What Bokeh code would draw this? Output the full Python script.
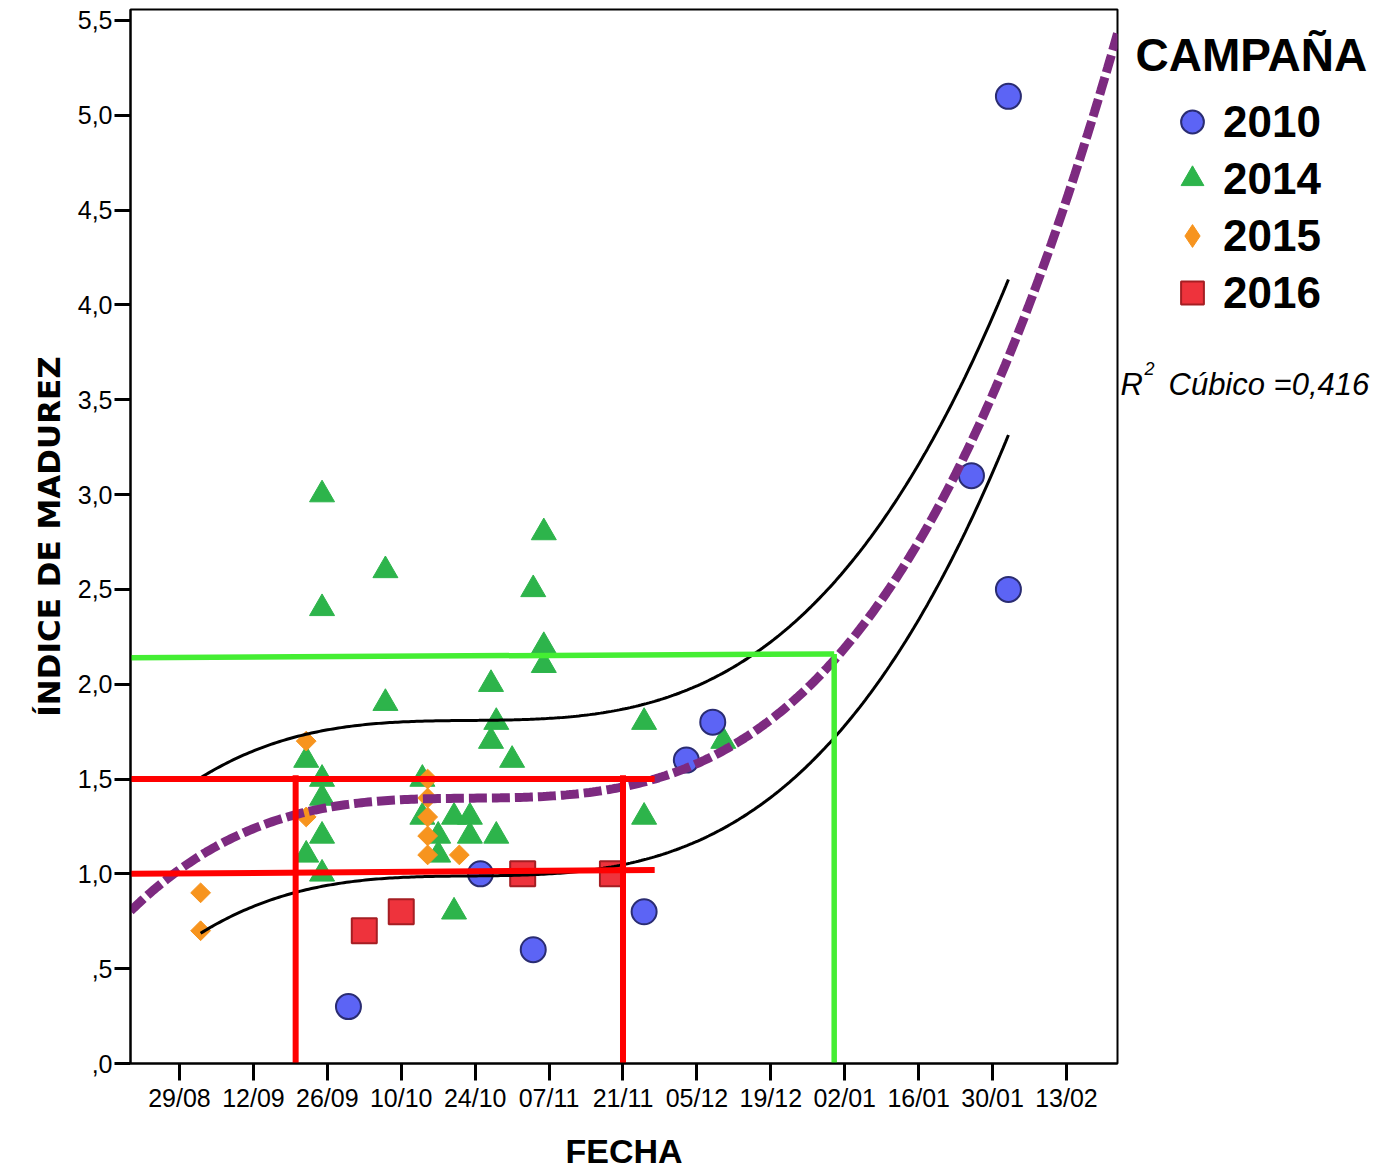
import numpy as np
import pandas as pd
from bokeh.plotting import figure
from bokeh.layouts import row
from bokeh.models import Range1d, FixedTicker, Legend, LegendItem, Label
from bokeh.embed import file_html
from bokeh.resources import INLINE

# ---------------- data ----------------
X_TICK_LABELS = ["29/08", "12/09", "26/09", "10/10", "24/10", "07/11", "21/11",
                 "05/12", "19/12", "02/01", "16/01", "30/01", "13/02"]
Y_TICKS = [0.0, 0.5, 1.0, 1.5, 2.0, 2.5, 3.0, 3.5, 4.0, 4.5, 5.0, 5.5]
Y_TICK_LABELS = [",0", ",5", "1,0", "1,5", "2,0", "2,5", "3,0", "3,5", "4,0", "4,5", "5,0", "5,5"]

C2010_FECHA = ["30/09", "25/10", "04/11", "25/11", "03/12", "08/12", "26/01", "02/02", "02/02"]
C2010_INDICE = [0.3, 1.0, 0.6, 0.8, 1.6, 1.8, 3.1, 5.1, 2.5]

C2014_FECHA = ["22/09", "22/09", "25/09", "25/09", "25/09", "25/09", "25/09", "25/09",
               "07/10", "07/10", "14/10", "14/10", "17/10", "17/10", "20/10", "20/10",
               "23/10", "23/10", "27/10", "27/10", "28/10", "28/10", "31/10", "04/11",
               "06/11", "06/11", "06/11", "25/11", "25/11", "10/12"]
C2014_INDICE = [1.6, 1.1, 3.0, 2.4, 1.5, 1.4, 1.2, 1.0,
                2.6, 1.9, 1.5, 1.3, 1.2, 1.1, 1.3, 0.8,
                1.3, 1.2, 2.0, 1.7, 1.8, 1.2, 1.6, 2.5,
                2.8, 2.2, 2.1, 1.8, 1.3, 1.7]

C2015_FECHA = ["02/09", "02/09", "22/09", "22/09", "15/10", "15/10", "15/10", "15/10", "15/10", "21/10"]
C2015_INDICE = [0.9, 0.7, 1.7, 1.3, 1.5, 1.4, 1.3, 1.2, 1.1, 1.1]

C2016_FECHA = ["03/10", "10/10", "02/11", "19/11"]
C2016_INDICE = [0.7, 0.8, 1.0, 1.0]

# cubic fit line (R2 cubic = 0,416)
AJUSTE_FECHA = ["20/08", "02/09", "14/09", "26/09", "08/10", "20/10", "01/11", "13/11",
                "26/11", "03/12", "12/12", "21/12", "27/12", "03/01", "12/01", "26/01",
                "02/02", "08/02", "14/02", "22/02"]
AJUSTE_INDICE = [0.82, 1.11, 1.25, 1.33, 1.38, 1.39, 1.40, 1.42,
                 1.48, 1.58, 1.70, 1.88, 2.04, 2.27, 2.58, 3.12,
                 3.67, 4.21, 4.66, 5.40]

# hand-drawn guide lines (segments): start date, end date, start value, end value
ROJA_FECHA_INI = ["19/08", "19/08", "20/09", "21/11"]
ROJA_FECHA_FIN = ["27/11", "27/11", "20/09", "21/11"]
ROJA_IND_INI = [1.50, 1.00, 1.52, 1.52]
ROJA_IND_FIN = [1.50, 1.02, -0.05, -0.05]

VERDE_FECHA_INI = ["19/08", "31/12"]
VERDE_FECHA_FIN = ["31/12", "31/12"]
VERDE_IND_INI = [2.14, 2.16]
VERDE_IND_FIN = [2.16, 0.0]

BANDA_SEMIANCHO = 0.41   # half-width of the black band around the cubic fit
R2_TEXTO = "Cúbico =0,416"
CAMPANAS = ["2010", "2014", "2015", "2016"]

# ---------------- helpers ----------------
ORIGEN = pd.Timestamp("2000-08-29")


def a_dias(fechas):
    out = []
    for f in fechas:
        d, m = (int(v) for v in f.split("/"))
        year = 2000 if m >= 8 else 2001
        out.append((pd.Timestamp(year=year, month=m, day=d) - ORIGEN).days)
    return np.array(out, dtype=float)


x_ticks = a_dias(X_TICK_LABELS)
x2010, x2014, x2015, x2016 = (a_dias(f) for f in (C2010_FECHA, C2014_FECHA, C2015_FECHA, C2016_FECHA))
SERIES = {"2010": (x2010, C2010_INDICE), "2014": (x2014, C2014_INDICE),
          "2015": (x2015, C2015_INDICE), "2016": (x2016, C2016_INDICE)}

X_START, X_END = -9.28, 177.66
Y_START, Y_END = 0.0, 5.558
H = 1172
BORDER_TOP, BORDER_BOTTOM = 9, 109

p = figure(width=1120, height=H,
           x_range=Range1d(X_START, X_END), y_range=Range1d(Y_START, Y_END),
           output_backend="svg", toolbar_location=None,
           min_border_left=130, min_border_right=3,
           min_border_top=BORDER_TOP, min_border_bottom=BORDER_BOTTOM)

p.background_fill_color = "white"
p.border_fill_color = "white"
p.outline_line_color = "black"
p.outline_line_width = 2
p.xgrid.visible = False
p.ygrid.visible = False

# ---------------- markers ----------------
ESTILO = {
    "2010": dict(marker="circle", fill_color="#5C64F5", line_color="#2A2C72", line_width=2),
    "2014": dict(marker="triangle", fill_color="#2DB44B", line_color="#2DB44B", line_width=1),
    "2015": dict(marker="diamond", fill_color="#F7941E", line_color="#F7941E", line_width=1),
    "2016": dict(marker="square", fill_color="#EE333C", line_color="#A51E23", line_width=2),
}

p.scatter(x2014, C2014_INDICE, size=25, **ESTILO["2014"])
p.scatter(x2015, C2015_INDICE, marker="square", angle=np.pi / 4, size=14,
          fill_color="#F7941E", line_color="#F7941E", line_width=1)
p.scatter(x2010, C2010_INDICE, size=25, **ESTILO["2010"])
p.scatter(x2016, C2016_INDICE, size=25, **ESTILO["2016"])

# ---------------- cubic fit and band ----------------
x_all = np.concatenate([x2010, x2014, x2015, x2016])
coef = np.polyfit(a_dias(AJUSTE_FECHA), AJUSTE_INDICE, 3)
xf = np.linspace(X_START, X_END, 300)
yf = np.polyval(coef, xf)
xb = np.linspace(x_all.min(), x_all.max(), 300)
yb = np.polyval(coef, xb)

p.line(xb, yb + BANDA_SEMIANCHO, line_color="black", line_width=3)
p.line(xb, yb - BANDA_SEMIANCHO, line_color="black", line_width=3)

p.line(xf, yf, line_color="#7D2A80", line_width=9, line_dash="18 5", line_cap="butt")

# ---------------- guide lines ----------------
p.segment(a_dias(ROJA_FECHA_INI), ROJA_IND_INI, a_dias(ROJA_FECHA_FIN), ROJA_IND_FIN,
          line_color="#FF0000", line_width=6, line_cap="butt")
p.segment(a_dias(VERDE_FECHA_INI), VERDE_IND_INI, a_dias(VERDE_FECHA_FIN), VERDE_IND_FIN,
          line_color="#44EE33", line_width=5.5, line_cap="butt")

# ---------------- axes ----------------
for ax in (p.xaxis[0], p.yaxis[0]):
    ax.axis_line_width = 2
    ax.axis_line_color = "black"
    ax.major_tick_line_width = 3
    ax.major_tick_line_color = "black"
    ax.major_tick_in = 0
    ax.minor_tick_line_color = None
    ax.major_label_text_font = "Liberation Sans"
    ax.major_label_text_font_size = "25px"
    ax.major_label_text_color = "black"

p.xaxis.major_tick_out = 17
p.yaxis.major_tick_out = 16
p.xaxis.ticker = FixedTicker(ticks=list(x_ticks))
p.xaxis.major_label_overrides = {float(d): lab for d, lab in zip(x_ticks, X_TICK_LABELS)}
p.yaxis.ticker = FixedTicker(ticks=Y_TICKS)
p.yaxis.major_label_overrides = {float(v): lab for v, lab in zip(Y_TICKS, Y_TICK_LABELS)}
p.xaxis.major_label_standoff = 3
p.yaxis.major_label_standoff = 2

p.xaxis.axis_label = "FECHA"
p.xaxis.axis_label_text_font = "Liberation Sans"
p.xaxis.axis_label_text_font_size = "34px"
p.xaxis.axis_label_text_font_style = "bold"
p.xaxis.axis_label_text_color = "black"
p.xaxis.axis_label_standoff = 17

p.yaxis.axis_label = "ÍNDICE DE MADUREZ"
p.yaxis.axis_label_text_font = "DejaVu Sans"
p.yaxis.axis_label_text_font_size = "31px"
p.yaxis.axis_label_text_font_style = "bold"
p.yaxis.axis_label_text_color = "black"
p.yaxis.axis_label_standoff = 8

# ---------------- legend panel (separate figure on the right) ----------------
q = figure(width=254, height=H, x_range=Range1d(-1000, -999), y_range=Range1d(-1000, -999),
           x_axis_type=None, y_axis_type=None, output_backend="svg", toolbar_location=None,
           min_border_left=0, min_border_right=0,
           min_border_top=BORDER_TOP, min_border_bottom=BORDER_BOTTOM)
q.outline_line_color = None
q.background_fill_color = "white"
q.border_fill_color = "white"

items = []
for c in CAMPANAS:
    xs, ys = SERIES[c]
    r = q.scatter(xs, ys, size=25, **ESTILO[c])   # same series, outside this panel's view
    items.append(LegendItem(label=c, renderers=[r]))

legend = Legend(items=items, location=(41, 742), orientation="vertical",
                glyph_width=62, glyph_height=57, spacing=0, label_standoff=0,
                padding=0, margin=0, border_line_color=None, background_fill_alpha=0,
                label_text_font="Liberation Sans", label_text_font_size="44px",
                label_text_font_style="bold", label_text_color="black")
q.add_layout(legend)

q.add_layout(Label(x=15, y=1009, x_units="screen", y_units="screen", text="CAMPAÑA",
                   text_font="Liberation Sans", text_font_size="46px", text_font_style="bold",
                   text_color="black", text_baseline="alphabetic"))
q.add_layout(Label(x=0, y=679, x_units="screen", y_units="screen", text="R",
                   text_font="Liberation Sans", text_font_size="31px", text_font_style="italic",
                   text_color="black", text_baseline="alphabetic"))
q.add_layout(Label(x=24, y=695, x_units="screen", y_units="screen", text="2",
                   text_font="Liberation Sans", text_font_size="18px", text_font_style="italic",
                   text_color="black", text_baseline="alphabetic"))
q.add_layout(Label(x=48, y=679, x_units="screen", y_units="screen", text=R2_TEXTO,
                   text_font="Liberation Sans", text_font_size="31px", text_font_style="italic",
                   text_color="black", text_baseline="alphabetic"))

layout = row(p, q)
open("out.html", "w").write(file_html(layout, INLINE))
